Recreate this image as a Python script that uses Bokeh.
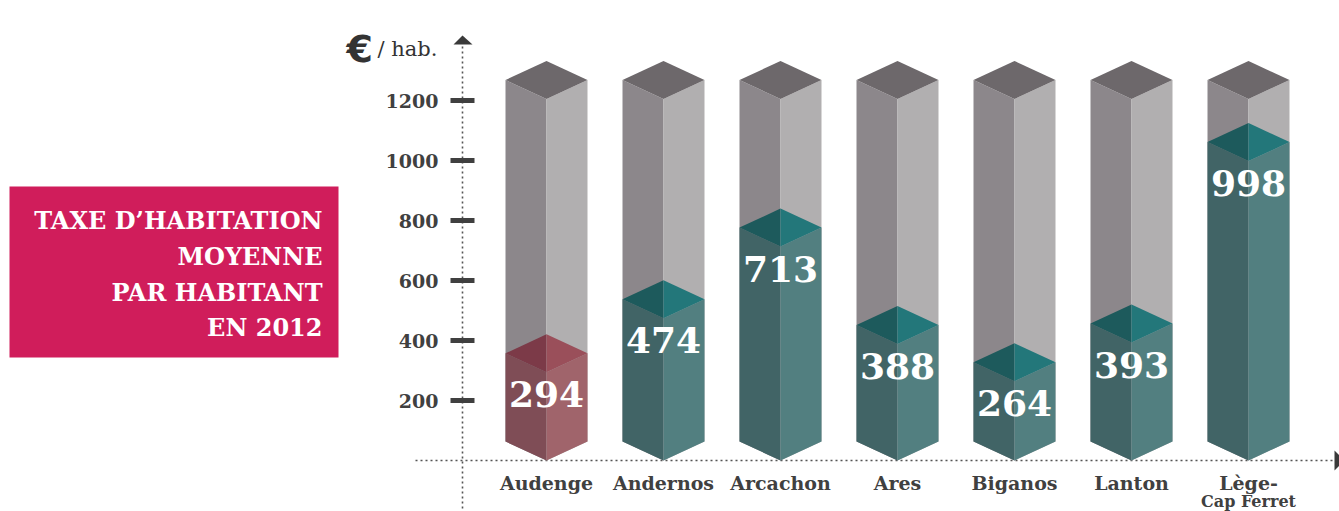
from bokeh.plotting import figure
from bokeh.models import Range1d
from bokeh.core.properties import value
from bokeh.embed import file_html
from bokeh.resources import INLINE

# ---- data ----
categories = ["Audenge", "Andernos", "Arcachon", "Ares", "Biganos", "Lanton", "Lège-Cap Ferret"]
label_line1 = ["Audenge", "Andernos", "Arcachon", "Ares", "Biganos", "Lanton", "Lège-"]
label_line2 = ["", "", "", "", "", "", "Cap Ferret"]
tax_values = [294, 474, 713, 388, 264, 393, 998]
highlight = "Audenge"
column_max = 1205
tick_values = [200, 400, 600, 800, 1000, 1200]
tick_labels = ["200", "400", "600", "800", "1000", "1200"]
title_lines = ["TAXE D\u2019HABITATION", "MOYENNE", "PAR HABITANT", "EN 2012"]

# ---- geometry (page pixels -> data) ----
W, H = 1339, 511
ORG = 0            # page offset of the canvas
CAT_PX = 117.0
CAT0_PX = 546.0
YPX = 0.3          # px per euro
ZERO_PX = 460.0
X0 = (ORG - CAT0_PX) / CAT_PX
X1 = X0 + W / CAT_PX
Y1 = (ZERO_PX - ORG) / YPX
Y0 = Y1 - H / YPX

def sx(px):
    return X0 + (px - ORG) / CAT_PX

def sy(py):
    return (ZERO_PX - py) / YPX

HW = 41 / CAT_PX     # half width of a column
D = 19 / YPX         # half height of the iso diamond

FONT = value("DejaVu Serif")

p = figure(width=W, height=H, x_range=Range1d(X0, X1), y_range=Range1d(Y0, Y1),
           output_backend="svg", toolbar_location=None, min_border=0,
           x_axis_type=None, y_axis_type=None, outline_line_color=None,
           background_fill_color="white", border_fill_color="white")
p.grid.visible = False

# ---- title box ----
p.quad(left=sx(9), right=sx(338), top=sy(186), bottom=sy(357),
       fill_color="#D01D5B", line_color=None)
p.text(x=[sx(322)] * 4, y=[sy(220), sy(256), sy(292), sy(327)], text=title_lines,
       text_align="right", text_baseline="middle", text_font=FONT,
       text_font_style="bold", text_font_size="24px", text_color="white")

# ---- axes lines ----
p.line([sx(462), sx(462)], [sy(46), sy(511)], line_color="#555555",
       line_width=1.6, line_dash="2 3")
p.line([sx(415), sx(1335)], [0, 0], line_color="#555555",
       line_width=1.6, line_dash="2 3")
p.patch([sx(453), sx(462), sx(472)], [sy(44), sy(35), sy(44)],
        fill_color="#3a3a3a", line_color=None)
p.patch([sx(1334), sx(1344), sx(1334)], [sy(450), sy(460), sy(470)],
        fill_color="#3a3a3a", line_color=None)

# ticks
p.segment(x0=[sx(450)] * len(tick_values), x1=[sx(474)] * len(tick_values),
          y0=tick_values, y1=tick_values, line_width=5, line_color="#404040")
p.text(x=[sx(438)] * len(tick_values), y=tick_values, text=tick_labels,
       text_align="right", text_baseline="middle", text_font=FONT,
       text_font_style="bold", text_font_size="19px", text_color="#404040")

# unit label
p.text(x=[sx(346)], y=[sy(48)], text=["\u20ac"], text_align="left",
       text_baseline="alphabetic", text_font=value("DejaVu Sans"), text_font_style="bold",
       text_font_size="38px", text_color="#333333")
p.text(x=[sx(377)], y=[sy(48)], text=["/ hab."], text_align="left",
       text_baseline="alphabetic", text_font=FONT, text_font_size="21px",
       text_color="#333333")

# ---- columns ----
def faces(i, v):
    left = ([i - HW, i, i, i - HW], [D, 0, v, v + D])
    right = ([i, i + HW, i + HW, i], [0, D, v + D, v])
    top_l = ([i - HW, i, i], [v + D, v, v + 2 * D])
    top_r = ([i, i + HW, i], [v, v + D, v + 2 * D])
    top = ([i - HW, i, i + HW, i], [v + D, v, v + D, v + 2 * D])
    return left, right, top_l, top_r, top

idx = list(range(len(categories)))

gl_x, gl_y, gr_x, gr_y, gt_x, gt_y = [], [], [], [], [], []
for i in idx:
    l, r, tl, tr, t = faces(i, column_max)
    gl_x.append(l[0]); gl_y.append(l[1])
    gr_x.append(r[0]); gr_y.append(r[1])
    gt_x.append(t[0]); gt_y.append(t[1])
p.patches(gl_x, gl_y, fill_color="#8C878B", line_color=None)
p.patches(gr_x, gr_y, fill_color="#B1AFB0", line_color=None)
p.patches(gt_x, gt_y, fill_color="#6D686B", line_color=None)

pal_hi = ("#7F4D56", "#A0646B", "#7C3A48", "#9A4F5A")
pal_lo = ("#416466", "#527F80", "#1D5A5C", "#23777A")
cl_x, cl_y, cr_x, cr_y, ctl_x, ctl_y, ctr_x, ctr_y = [], [], [], [], [], [], [], []
c1, c2, c3, c4 = [], [], [], []
for i, (cat, v) in enumerate(zip(categories, tax_values)):
    l, r, tl, tr, t = faces(i, v)
    pal = pal_hi if cat == highlight else pal_lo
    cl_x.append(l[0]); cl_y.append(l[1]); c1.append(pal[0])
    cr_x.append(r[0]); cr_y.append(r[1]); c2.append(pal[1])
    ctl_x.append(tl[0]); ctl_y.append(tl[1]); c3.append(pal[2])
    ctr_x.append(tr[0]); ctr_y.append(tr[1]); c4.append(pal[3])
p.patches(cl_x, cl_y, fill_color=c1, line_color=None)
p.patches(cr_x, cr_y, fill_color=c2, line_color=None)
p.patches(ctl_x, ctl_y, fill_color=c3, line_color=None)
p.patches(ctr_x, ctr_y, fill_color=c4, line_color=None)

# value labels
p.text(x=idx, y=[v - 22 / YPX for v in tax_values], text=[str(v) for v in tax_values],
       text_align="center", text_baseline="middle", text_font=FONT,
       text_font_style="bold", text_font_size="36px", text_color="white")

# category labels
p.text(x=idx, y=[sy(482)] * len(idx), text=label_line1, text_align="center",
       text_baseline="middle", text_font=FONT, text_font_style="bold",
       text_font_size="19px", text_color="#404040")
p.text(x=idx, y=[sy(501)] * len(idx), text=label_line2, text_align="center",
       text_baseline="middle", text_font=FONT, text_font_style="bold",
       text_font_size="16px", text_color="#404040")

open("out.html", "w").write(file_html(p, INLINE))
